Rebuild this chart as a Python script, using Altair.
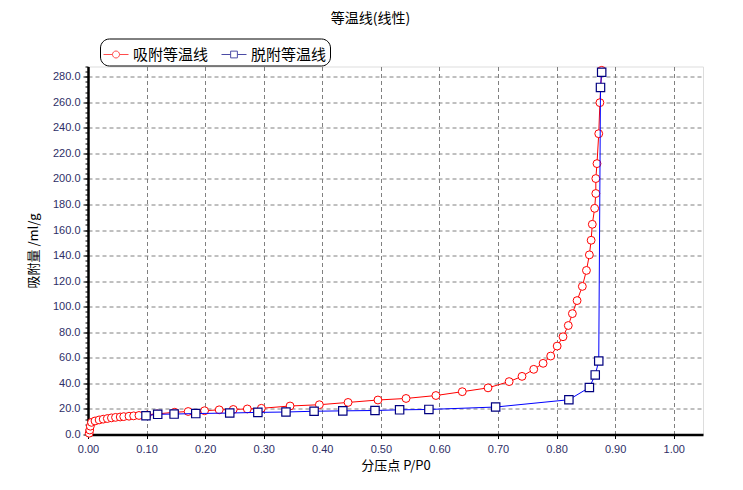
import altair as alt
import pandas as pd

# ---- data ----
ads_x = [0.002, 0.003, 0.004, 0.006, 0.012, 0.019, 0.026, 0.033, 0.040, 0.047, 0.055,
         0.061, 0.070, 0.078, 0.087, 0.101, 0.118, 0.148, 0.171, 0.199, 0.224, 0.248,
         0.272, 0.296, 0.345, 0.395, 0.444, 0.495, 0.543, 0.594, 0.639, 0.683, 0.719,
         0.741, 0.761, 0.777, 0.790, 0.801, 0.811, 0.820, 0.827, 0.835, 0.844, 0.851,
         0.856, 0.859, 0.861, 0.865, 0.867, 0.867, 0.869, 0.872, 0.874, 0.877]
ads_y = [1.0, 3.5, 6.5, 9.5, 10.6, 11.4, 12.0, 12.5, 13.0, 13.4, 13.7,
         14.0, 14.3, 14.6, 14.9, 15.3, 16.1, 17.4, 18.0, 18.6, 19.3, 19.6,
         20.0, 20.5, 22.3, 23.3, 25.1, 27.0, 28.2, 30.5, 33.5, 36.5, 41.4,
         45.5, 51.0, 55.7, 61.4, 69.2, 76.5, 85.3, 94.6, 104.8, 115.9, 128.4,
         140.6, 152.0, 164.5, 177.0, 188.6, 200.3, 212.0, 235.4, 259.7, 285.0]

des_x = [0.877, 0.875, 0.872, 0.866, 0.856, 0.821, 0.696, 0.582, 0.532, 0.490,
         0.435, 0.386, 0.338, 0.290, 0.242, 0.184, 0.147, 0.119, 0.099]
des_y = [283.5, 271.6, 57.5, 46.6, 36.8, 27.2, 21.5, 19.6, 19.3, 18.8,
         18.5, 18.2, 17.6, 17.3, 16.8, 16.4, 16.0, 15.8, 14.7]

series_names = ["吸附等温线", "脱附等温线"]
series_colors = ["#ff0000", "#000080"]
x_ticks = [0.0, 0.1, 0.2, 0.3, 0.4, 0.5, 0.6, 0.7, 0.8, 0.9, 1.0]
y_ticks = list(range(0, 281, 20))
y_minor = list(range(0, 289, 4))

title_text = "等温线(线性)"
x_title = "分压点 P/P0"
y_title = "吸附量 /ml/g"

ads = pd.DataFrame({"x": ads_x, "y": ads_y, "series": series_names[0],
                    "i": range(len(ads_x))})
des = pd.DataFrame({"x": des_x, "y": des_y, "series": series_names[1],
                    "i": range(len(des_x))})
both = pd.concat([ads, des], ignore_index=True)

xscale = alt.Scale(domain=[0, 1.05], nice=False, zero=False)
yscale = alt.Scale(domain=[0, 288], nice=False, zero=False)

label_font = "Liberation Sans"
cjk = "Noto Sans CJK SC"

x_axis = alt.Axis(values=x_ticks, format=".2f", grid=True, gridColor="#808080",
                  gridDash=[4, 3], gridWidth=1, domainColor="black", domainWidth=2.5,
                  tickColor="black", tickSize=4, labelFont=label_font, labelFontSize=11,
                  labelColor="#2e2e66", labelPadding=5, labelFlush=False,
                  title=x_title, titleFont=cjk,
                  titleFontSize=13, titleFontWeight="normal", titleColor="black",
                  titlePadding=5)
y_axis = alt.Axis(values=y_ticks, format=".1f", grid=True, gridColor="#808080",
                  gridDash=[4, 3], gridWidth=1, domainColor="black", domainWidth=2.5,
                  tickColor="black", tickSize=5, labelFont=label_font, labelFontSize=11,
                  labelColor="#2e2e66", labelPadding=3, labelFlush=False,
                  title=y_title, titleFont=cjk,
                  titleFontSize=13, titleFontWeight="normal", titleColor="black",
                  titlePadding=12, orient="left")
y_minor_axis = alt.Axis(values=y_minor, labels=False, grid=False, domain=False,
                        ticks=True, tickSize=3, tickColor="black", orient="left",
                        title=None)

X = alt.X("x:Q", scale=xscale, axis=x_axis)

red_line = alt.Chart(ads).mark_line(color=series_colors[0], strokeWidth=1).encode(
    x=X, y=alt.Y("y:Q", scale=yscale, axis=y_axis), order="i:Q")
red_pts = alt.Chart(ads).mark_point(shape="circle", size=62, filled=False,
                                    fill="white", fillOpacity=1,
                                    stroke=series_colors[0], strokeWidth=1,
                                    opacity=1).encode(
    x=X, y=alt.Y("y:Q", scale=yscale, axis=None))
blue_line = alt.Chart(des).mark_line(color="#0000ff", strokeWidth=1).encode(
    x=X, y=alt.Y("y:Q", scale=yscale, axis=None), order="i:Q")
blue_pts = alt.Chart(des).mark_point(shape="square", size=70, filled=False,
                                     fill="white", fillOpacity=1,
                                     stroke=series_colors[1], strokeWidth=1.2,
                                     opacity=1).encode(
    x=X, y=alt.Y("y:Q", scale=yscale, axis=None))

circle_sym = ("M-1,0L-0.28,0M0.28,0L1,0M-0.28,0A0.28,0.28,0,1,1,0.28,0"
              "A0.28,0.28,0,1,1,-0.28,0Z")
square_sym = "M-1,0L-0.27,0M0.27,0L1,0M-0.27,-0.27L0.27,-0.27L0.27,0.27L-0.27,0.27Z"

legend = alt.Legend(orient="none", legendX=12, legendY=-28, direction="horizontal",
                    strokeColor="black", cornerRadius=9, padding=3, fillColor="white",
                    labelFont=cjk, labelFontSize=15, labelColor="black",
                    symbolSize=625, symbolStrokeWidth=1, labelOffset=4,
                    columnPadding=10, symbolFillColor="white")

legend_layer = alt.Chart(both).mark_point(size=0, filled=False).encode(
    x=X,
    y=alt.Y("y:Q", scale=yscale, axis=y_minor_axis),
    stroke=alt.Stroke("series:N", title=None, legend=legend,
                      scale=alt.Scale(domain=series_names, range=series_colors)),
    shape=alt.Shape("series:N", title=None, legend=legend,
                    scale=alt.Scale(domain=series_names,
                                    range=[circle_sym, square_sym])),
)

chart = alt.layer(red_line, red_pts, blue_line, blue_pts, legend_layer).resolve_axis(
    y="independent"
).properties(
    width=615, height=368,
    autosize=alt.AutoSizeParams(type="none"),
    padding={"left": 80, "top": 58.5, "right": 30, "bottom": 45},
    title=alt.Title(title_text, font=cjk, fontSize=14, fontWeight="normal",
                    color="black", anchor="middle", dx=-25, offset=12),
).configure_view(stroke="black", strokeWidth=1).configure(background="white")

chart.save("out.html", embed_options={"renderer": "svg", "actions": False})
